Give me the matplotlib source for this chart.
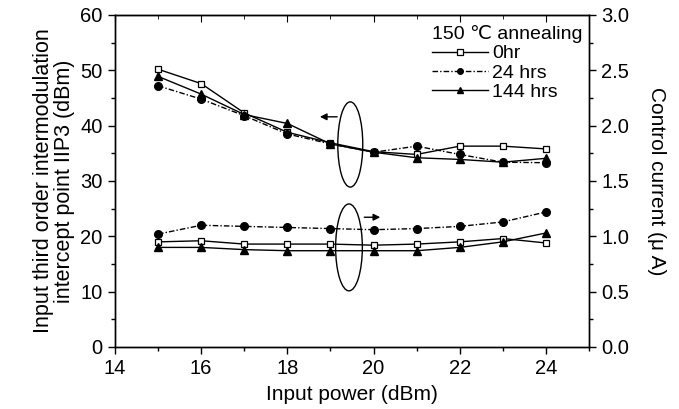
import matplotlib
matplotlib.use("Agg")
import matplotlib.pyplot as plt
from matplotlib.patches import Ellipse
from matplotlib.lines import Line2D
from matplotlib.ticker import MultipleLocator

plt.rcParams['font.family'] = ['Liberation Sans', 'DejaVu Sans']

power = [15, 16, 17, 18, 19, 20, 21, 22, 23, 24]

iip3_0hr = [50.2, 47.6, 42.3, 38.8, 36.9, 35.3, 34.8, 36.3, 36.3, 35.8]
iip3_24h = [47.2, 44.8, 41.8, 38.5, 36.7, 35.2, 36.3, 34.8, 33.4, 33.3]
iip3_144h = [48.9, 45.7, 42.0, 40.4, 36.7, 35.2, 34.2, 33.9, 33.4, 34.1]

cur_0hr = [0.95, 0.96, 0.93, 0.93, 0.93, 0.92, 0.93, 0.95, 0.98, 0.94]
cur_24h = [1.02, 1.10, 1.09, 1.08, 1.07, 1.06, 1.07, 1.09, 1.13, 1.22]
cur_144h = [0.90, 0.90, 0.88, 0.87, 0.87, 0.87, 0.87, 0.90, 0.95, 1.03]

labels = ['0hr', '24 hrs', '144 hrs']

fig = plt.figure(figsize=(6.79, 4.09), dpi=100)
ax = fig.add_axes([115/679, 62/409, 474/679, 332/409])
ax2 = ax.twinx()

fs_tick = 14.5
fs_lab = 15
s0 = dict(color='black', lw=1.0, ls='-', marker='s', mfc='white', mec='black', ms=5, mew=0.9)
s24 = dict(color='black', lw=1.0, ls=(0, (4, 1.5, 1, 1.5)), marker='o', mfc='black', mec='black', ms=5.5)
s144 = dict(color='black', lw=1.0, ls='-', marker='^', mfc='black', mec='black', ms=6)

ax.plot(power, iip3_0hr, **s0)
ax.plot(power, iip3_24h, **s24)
ax.plot(power, iip3_144h, **s144)
ax2.plot(power, cur_0hr, **s0)
ax2.plot(power, cur_24h, **s24)
ax2.plot(power, cur_144h, **s144)

ax.set_xlim(14, 25)
ax.set_ylim(0, 60)
ax2.set_ylim(0, 3.0)
ax.set_xticks([14, 16, 18, 20, 22, 24])
ax.xaxis.set_minor_locator(MultipleLocator(1))
ax.yaxis.set_major_locator(MultipleLocator(10))
ax.yaxis.set_minor_locator(MultipleLocator(5))
ax2.yaxis.set_minor_locator(MultipleLocator(0.25))
ax2.set_yticks([0.0, 0.5, 1.0, 1.5, 2.0, 2.5, 3.0])
ax2.set_yticklabels(['0.0', '0.5', '1.0', '1.5', '2.0', '2.5', '3.0'])

ax.tick_params(axis='both', which='major', labelsize=fs_tick, length=5, width=1, direction='out', pad=4)
ax.tick_params(axis='both', which='minor', length=3, width=1, direction='out')
ax2.tick_params(axis='y', which='major', labelsize=fs_tick, length=5, width=1, direction='out', pad=4)
ax2.tick_params(axis='y', which='minor', length=3, width=1, direction='out')
for a in (ax, ax2):
    for sp in a.spines.values():
        sp.set_linewidth(1.0)
secx = ax.secondary_xaxis('top')
secx.set_xticks([14, 16, 18, 20, 22, 24])
secx.xaxis.set_minor_locator(MultipleLocator(1))
secx.tick_params(which='major', direction='in', length=5, labeltop=False)
secx.tick_params(which='minor', direction='in', length=3)

ax.set_xlabel('Input power (dBm)', fontsize=fs_lab, labelpad=5)
ax.set_ylabel('Input third order intermodulation\nintercept point IIP3 (dBm)', fontsize=15.5,
              labelpad=4, linespacing=1.0)
ax2.set_ylabel('Control current (μ A)', fontsize=fs_lab, rotation=-90, labelpad=26)

ax.add_patch(Ellipse((19.46, 36.6), 0.58, 15.4, fill=False, ec='black', lw=1.0))
ax.add_patch(Ellipse((19.43, 18.0), 0.62, 15.7, fill=False, ec='black', lw=1.0))
ax.annotate('', xy=(18.69, 41.6), xytext=(19.22, 41.6),
            arrowprops=dict(arrowstyle='-|>', color='black', lw=1.0, mutation_scale=10))
ax.annotate('', xy=(20.22, 23.45), xytext=(19.72, 23.45),
            arrowprops=dict(arrowstyle='-|>', color='black', lw=1.0, mutation_scale=10))

handles = [Line2D([], [], **s0), Line2D([], [], **s24), Line2D([], [], **s144)]
for h in handles:
    h.set_markersize(4)
leg = ax.legend(handles, labels, title='150 ℃ annealing', fontsize=14, title_fontsize=14,
                loc='upper left', bbox_to_anchor=(0.64, 1.01), frameon=False,
                handlelength=2.9, handletextpad=0.2, labelspacing=0.08, borderpad=0.2)
leg._legend_box.align = 'left'

fig.savefig('out.png', dpi=100)
